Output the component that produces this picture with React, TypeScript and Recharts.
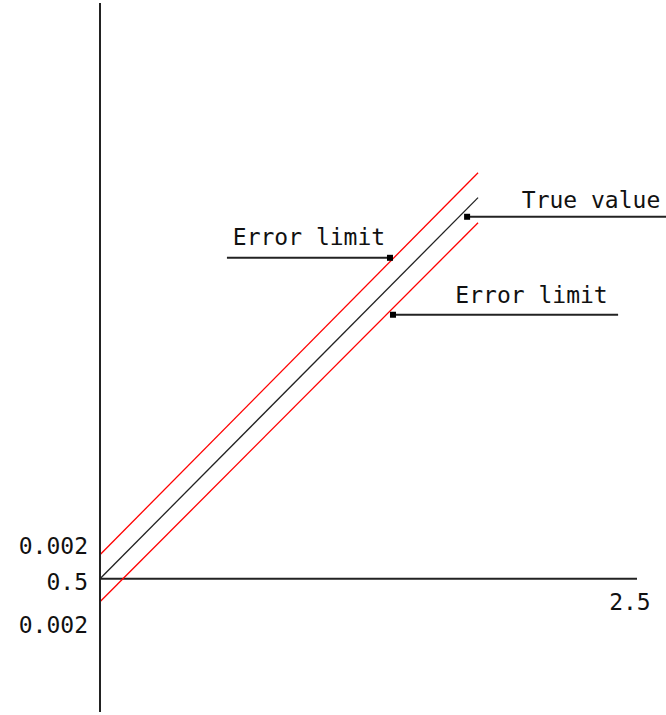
import React from 'react';
import { ComposedChart, Line, XAxis, YAxis, ReferenceLine, ReferenceDot } from 'recharts';

// Characteristic lines (x in axis units, y in axis units)
const xValues = [0, 1.76];
const trueValues = [0.5, 2.274];
const upperValues = [0.612, 2.39];
const lowerValues = [0.393, 2.157];

// Y tick labels
const yTickValues = [0.654, 0.486, 0.286];
const yTickLabels = ['0.002', '0.5', '0.002'];

// Horizontal axis
const xAxisStart = 0;
const xAxisEnd = 2.5;
const xAxisLevel = 0.5;
const xAxisLabel = '2.5';
const xAxisLabelPos = [2.467, 0.393];

// Annotations
const annotationTexts = ['True value', 'Error limit', 'Error limit'];
const annotationLineY = [2.185, 1.994, 1.729];
const annotationLineX1 = [1.709, 0.591, 1.364];
const annotationLineX2 = [2.635, 1.35, 2.412];
const annotationArrowX = [1.709, 1.35, 1.364];
const annotationTextX = [2.286, 0.973, 2.009];
const annotationTextY = [2.264, 2.091, 1.822];

const data = xValues.map((x, i) => ({
  x,
  trueValue: trueValues[i],
  upper: upperValues[i],
  lower: lowerValues[i],
}));

const FONT = '"DejaVu Sans Mono", monospace';
const INK = '#222';

const Arrow = (p: any) => (
  <rect x={p.cx - 3} y={p.cy - 3} width={6} height={6} fill="#000" />
);

export default function App() {
  return (
    <div style={{ position: 'absolute', left: 0, top: 0, width: 666, height: 715, background: '#fff' }}>
      <ComposedChart
        width={666}
        height={715}
        data={data}
        margin={{ top: 3, right: 0, bottom: 3, left: 0 }}
      >
        <XAxis dataKey="x" type="number" domain={[0, 2.635]} hide allowDataOverflow />
        <YAxis
          type="number"
          domain={[-0.12, 3.18]}
          width={100}
          ticks={yTickValues}
          interval={0}
          allowDataOverflow
          axisLine={{ stroke: INK, strokeWidth: 2 }}
          tickLine={false}
          tickSize={0}
          tickMargin={12}
          tickFormatter={(v: number) => yTickLabels[yTickValues.indexOf(v)] ?? ''}
          tick={{ fill: '#111', fontSize: 23, fontFamily: FONT }}
        />
        <ReferenceLine
          segment={[{ x: xAxisStart, y: xAxisLevel }, { x: xAxisEnd, y: xAxisLevel }]}
          stroke={INK}
          strokeWidth={2}
        />
        <ReferenceDot
          x={xAxisLabelPos[0]}
          y={xAxisLabelPos[1]}
          r={0}
          stroke="none"
          fill="none"
          label={{ value: xAxisLabel, position: 'center', fill: '#111', fontSize: 23, fontFamily: FONT }}
        />
        {annotationTexts.map((t, i) => (
          <ReferenceLine
            key={'al' + i}
            segment={[
              { x: annotationLineX1[i], y: annotationLineY[i] },
              { x: annotationLineX2[i], y: annotationLineY[i] },
            ]}
            stroke={INK}
            strokeWidth={2}
          />
        ))}
        {annotationTexts.map((t, i) => (
          <ReferenceDot
            key={'ad' + i}
            x={annotationArrowX[i]}
            y={annotationLineY[i]}
            r={3}
            shape={Arrow}
          />
        ))}
        {annotationTexts.map((t, i) => (
          <ReferenceDot
            key={'at' + i}
            x={annotationTextX[i]}
            y={annotationTextY[i]}
            r={0}
            stroke="none"
            fill="none"
            label={{ value: t, position: 'center', fill: '#111', fontSize: 23, fontFamily: FONT }}
          />
        ))}
        <Line dataKey="upper" type="linear" stroke="#ff0000" strokeWidth={1.3} dot={false} isAnimationActive={false} />
        <Line dataKey="trueValue" type="linear" stroke="#222" strokeWidth={1.3} dot={false} isAnimationActive={false} />
        <Line dataKey="lower" type="linear" stroke="#ff0000" strokeWidth={1.3} dot={false} isAnimationActive={false} />
      </ComposedChart>
    </div>
  );
}
